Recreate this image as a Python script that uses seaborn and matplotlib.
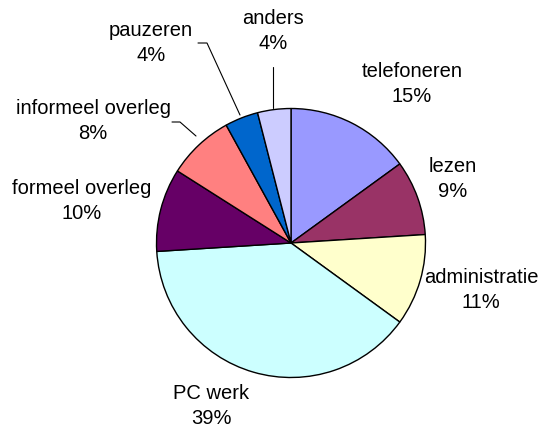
import matplotlib
matplotlib.use("Agg")
import matplotlib.pyplot as plt
import seaborn as sns

categories = ["telefoneren", "lezen", "administratie", "PC werk",
              "formeel overleg", "informeel overleg", "pauzeren", "anders"]
values = [15, 9, 11, 39, 10, 8, 4, 4]
colors = ["#9999FF", "#993366", "#FFFFCC", "#CCFFFF",
          "#660066", "#FF8080", "#0066CC", "#CCCCFF"]

# layout (pixel coordinates, y measured from top)
label_pos = [(412, 84), (453, 179), (481, 290), (211, 406),
             (82, 201), (93, 121), (151, 43), (273, 31)]
leaders = {
    5: [(196, 136), (180, 122), (172, 122)],
    6: [(240, 115), (207, 43), (198, 43)],
    7: [(273, 108), (273, 67)],
}

sns.set_style("white")
plt.rcParams["font.family"] = ["Liberation Sans", "DejaVu Sans"]

W, H = 544, 430
fig = plt.figure(figsize=(W / 100, H / 100), dpi=100)
ax = fig.add_axes([0, 0, 1, 1])

cx, cy, r = 291, H - 243, 134.5
ax.pie(values, colors=colors, startangle=90, counterclock=False,
       center=(cx, cy), radius=r, frame=True,
       wedgeprops=dict(edgecolor="black", linewidth=1.0))
ax.set_xlim(0, W)
ax.set_ylim(0, H)
ax.set_aspect("equal")
ax.axis("off")

total = sum(values)
for i, (cat, v) in enumerate(zip(categories, values)):
    x, y = label_pos[i]
    ax.text(x, H - y, f"{cat}\n{round(100 * v / total)}%", ha="center",
            va="center", fontsize=14.5, linespacing=1.4, color="black")

for pts in leaders.values():
    xs = [p[0] for p in pts]
    ys = [H - p[1] for p in pts]
    ax.plot(xs, ys, color="black", linewidth=0.8)

fig.savefig("out.png", dpi=100, facecolor="white")
